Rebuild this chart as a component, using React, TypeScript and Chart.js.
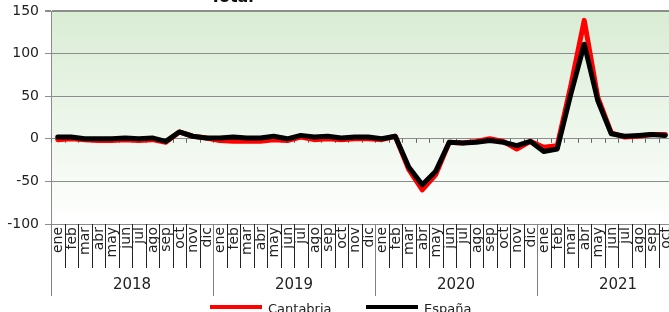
import React, { useEffect, useRef } from "react";
import { Chart, registerables } from "chart.js";

Chart.register(...registerables);

const MONTHS = ["ene", "feb", "mar", "abr", "may", "jun", "jul", "ago", "sep", "oct", "nov", "dic"];
const YEARS = ["2018", "2019", "2020", "2021"];
const LAST_YEAR_MONTHS = 10;

const monthLabels: string[] = [];
const yearOfIndex: number[] = [];
YEARS.forEach((_, yi) => {
  const n = yi === YEARS.length - 1 ? LAST_YEAR_MONTHS : 12;
  for (let m = 0; m < n; m++) {
    monthLabels.push(MONTHS[m]);
    yearOfIndex.push(yi);
  }
});

const cantabria = [
  -1, 0, -1, -2, -2, -1, -2, -1, -4, 8, 3, 1,
  -2, -3, -3, -3, -1, -2, 2, -1, 0, -1, 0, 0,
  -1, 3, -36, -60, -42, -4, -5, -3, 0, -3, -12, -3,
  -10, -8, 62, 139, 49, 7, 2, 3, 5, 5,
];

const espana = [
  2, 2, 0, 0, 0, 1, 0, 1, -3, 8, 3, 1,
  1, 2, 1, 1, 3, 0, 4, 2, 3, 1, 2, 2,
  0, 3, -33, -54, -38, -4, -5, -4, -2, -4, -8, -3,
  -15, -12, 52, 111, 45, 6, 3, 4, 5, 4,
];

const Y_MIN = -100;
const Y_MAX = 150;
const Y_STEP = 50;
const TITLE = "Total";
const SERIES_NAMES = ["Cantabria", "España"];

const FONT = "'DejaVu Sans', sans-serif";

const customPlugin = {
  id: "customDraw",
  beforeDraw(chart: any) {
    const { ctx, chartArea: a } = chart;
    const g = ctx.createLinearGradient(0, a.top, 0, a.bottom);
    g.addColorStop(0, "rgb(217,236,212)");
    g.addColorStop(1, "rgb(255,255,255)");
    ctx.save();
    ctx.fillStyle = g;
    ctx.fillRect(a.left, a.top, a.right - a.left, a.bottom - a.top);
    ctx.restore();
  },
  beforeDatasetsDraw(chart: any) {
    const { ctx } = chart;
    const xs = chart.scales.x;
    const ys = chart.scales.y;
    const y0 = ys.getPixelForValue(0);
    const half = (xs.getPixelForValue(1) - xs.getPixelForValue(0)) / 2;
    ctx.save();
    ctx.strokeStyle = "#666";
    ctx.lineWidth = 1;
    ctx.beginPath();
    for (let i = 0; i <= monthLabels.length; i++) {
      const bx = Math.round(xs.getPixelForValue(i) - half) + 0.5;
      ctx.moveTo(bx, y0);
      ctx.lineTo(bx, y0 + 4);
    }
    ctx.stroke();
    ctx.restore();
  },
  afterDraw(chart: any) {
    const { ctx, chartArea: a } = chart;
    const xs = chart.scales.x;
    const half = (xs.getPixelForValue(1) - xs.getPixelForValue(0)) / 2;
    const bottom = a.bottom;
    ctx.save();
    // month boundary lines
    ctx.lineWidth = 1;
    for (let i = 0; i <= monthLabels.length; i++) {
      const bx = Math.round(xs.getPixelForValue(i) - half) + 0.5;
      const isYear = i === monthLabels.length || yearOfIndex[i] !== yearOfIndex[i - 1];
      ctx.strokeStyle = isYear ? "#808080" : "#222";
      ctx.beginPath();
      ctx.moveTo(bx, bottom);
      ctx.lineTo(bx, bottom + (isYear ? 72 : 44));
      ctx.stroke();
    }
    // month labels
    ctx.fillStyle = "#222";
    ctx.font = `14px ${FONT}`;
    ctx.textAlign = "right";
    ctx.textBaseline = "middle";
    monthLabels.forEach((lab, i) => {
      const cx = xs.getPixelForValue(i);
      ctx.save();
      ctx.translate(cx + 1, bottom + 3);
      ctx.rotate(-Math.PI / 2);
      ctx.fillText(lab, 0, 0);
      ctx.restore();
    });
    // year labels
    ctx.font = `15px ${FONT}`;
    ctx.textAlign = "center";
    ctx.textBaseline = "middle";
    YEARS.forEach((yr, yi) => {
      const idx = yearOfIndex.map((v, i) => (v === yi ? i : -1)).filter((v) => v >= 0);
      const x1 = xs.getPixelForValue(idx[0]) - half;
      const x2 = yi === YEARS.length - 1
        ? xs.getPixelForValue(idx[0] + 11) + half
        : xs.getPixelForValue(idx[idx.length - 1]) + half;
      ctx.fillText(yr, (x1 + x2) / 2, bottom + 61);
    });
    // legend
    const ly = 307;
    const items = [
      { name: SERIES_NAMES[0], color: "#ff0000", x: 210 },
      { name: SERIES_NAMES[1], color: "#000000", x: 366 },
    ];
    ctx.font = `13px ${FONT}`;
    ctx.textAlign = "left";
    ctx.textBaseline = "middle";
    items.forEach((it) => {
      ctx.strokeStyle = it.color;
      ctx.lineWidth = 4;
      ctx.beginPath();
      ctx.moveTo(it.x, ly);
      ctx.lineTo(it.x + 52, ly);
      ctx.stroke();
      ctx.fillStyle = "#222";
      ctx.fillText(it.name, it.x + 58, ly + 3);
    });
    // title (mostly cut off at top)
    ctx.font = `bold 16px ${FONT}`;
    ctx.textAlign = "center";
    ctx.textBaseline = "alphabetic";
    ctx.fillStyle = "#111";
    ctx.fillText(TITLE, 232, 2);
    ctx.restore();
  },
};

export default function App() {
  const ref = useRef<HTMLCanvasElement | null>(null);
  useEffect(() => {
    document.body.style.overflow = "hidden";
    document.documentElement.style.overflow = "hidden";
    const canvas = ref.current;
    if (!canvas) return;
    const chart = new Chart(canvas, {
      type: "line",
      data: {
        labels: monthLabels,
        datasets: [
          {
            label: SERIES_NAMES[0],
            data: cantabria,
            borderColor: "#ff0000",
            backgroundColor: "#ff0000",
            borderWidth: 5,
            borderJoinStyle: "round",
            borderCapStyle: "round",
            pointRadius: 0,
            tension: 0,
            order: 1,
          },
          {
            label: SERIES_NAMES[1],
            data: espana,
            borderColor: "#000000",
            backgroundColor: "#000000",
            borderWidth: 5,
            borderJoinStyle: "round",
            borderCapStyle: "round",
            pointRadius: 0,
            tension: 0,
            order: 0,
          },
        ],
      },
      options: {
        animation: false,
        responsive: true,
        maintainAspectRatio: false,
        layout: { padding: { top: 11, right: 1, left: 0, bottom: 88 } },
        plugins: {
          legend: { display: false },
          title: { display: false },
          tooltip: { enabled: false },
        },
        scales: {
          x: {
            type: "category",
            offset: true,
            display: false,
          },
          y: {
            min: Y_MIN,
            max: Y_MAX,
            ticks: {
              stepSize: Y_STEP,
              color: "#222",
              font: { size: 14, family: FONT },
              padding: 6,
            },
            grid: {
              color: "#8c8c8c",
              lineWidth: (c: any) => (c.tick && c.tick.value === Y_MAX ? 2 : 1),
              tickLength: 6,
            },
            border: { color: "#8c8c8c", width: 1 },
            afterFit: (s: any) => {
              s.width = 51;
              s.paddingTop = 0;
              s.paddingBottom = 0;
            },
          },
        },
      },
      plugins: [customPlugin],
    });
    return () => chart.destroy();
  }, []);
  return (
    <div style={{ position: "absolute", left: 0, top: 0, width: 673, height: 312 }}>
      <canvas ref={ref} />
    </div>
  );
}
